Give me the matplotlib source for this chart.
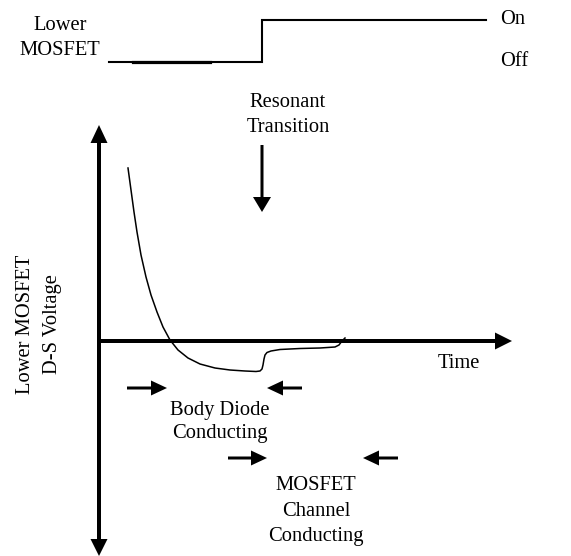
import matplotlib
matplotlib.use("Agg")
import matplotlib.pyplot as plt

# ---- data (diagram geometry in pixel units) ----
gate_x = [109, 262, 262, 486]
gate_y = [62, 62, 20, 20]
gate_thick_x = [133, 210]
gate_thick_y = [62, 62]

curve_x = [128, 131, 134, 137, 141, 146, 151, 157, 163, 170, 178, 188, 200, 215, 230,
           245, 256, 260, 262, 263, 264, 265, 267, 271, 280, 300, 320, 335, 339, 342, 345]
curve_y = [168, 190, 212, 232, 255, 277, 295, 312, 327, 340, 350, 358, 364, 368, 370,
           371, 371.5, 371, 369, 365, 359, 355, 352.5, 351, 349.5, 348.5, 348, 347, 345, 341, 338]

labels_font = ["Liberation Serif", "DejaVu Serif"]

fig = plt.figure(figsize=(5.71, 5.56), dpi=100)
ax = fig.add_axes([0, 0, 1, 1])
ax.set_xlim(0, 571)
ax.set_ylim(556, 0)
ax.axis("off")

fs = 14.8

# gate signal
ax.plot(gate_x, gate_y, color="black", lw=1.5, solid_joinstyle="miter")
ax.plot(gate_thick_x, gate_thick_y, color="black", lw=2.3)
ax.text(60, 38, "Lower\nMOSFET", ha="center", va="center", fontsize=fs,
        family=labels_font, linespacing=1.38)
ax.text(500, 19, "On", ha="left", va="center", fontsize=fs, family=labels_font)
ax.text(500, 62, "Off", ha="left", va="center", fontsize=fs, family=labels_font)

# resonant transition
ax.text(288, 115, "Resonant\nTransition", ha="center", va="center", fontsize=fs,
        family=labels_font, linespacing=1.48)
ax.arrow(262, 145, 0, 67, width=3, head_width=18, head_length=15,
         length_includes_head=True, color="black", lw=0)

# axes
ax.arrow(99, 341, 0, -216, width=4, head_width=17, head_length=18,
         length_includes_head=True, color="black", lw=0)
ax.arrow(99, 339, 0, 217, width=4, head_width=17, head_length=17,
         length_includes_head=True, color="black", lw=0)
ax.arrow(97, 341, 415, 0, width=4, head_width=17, head_length=17,
         length_includes_head=True, color="black", lw=0)
ax.text(459, 364, "Time", ha="center", va="center", fontsize=fs, family=labels_font)
ax.text(39, 324, "Lower MOSFET\nD-S Voltage", ha="center", va="center", fontsize=fs,
        family=labels_font, rotation=90, linespacing=1.62)

# waveform
ax.plot(curve_x, curve_y, color="black", lw=1.1)

# body diode arrows
ax.arrow(127, 388, 40, 0, width=3, head_width=15, head_length=16,
         length_includes_head=True, color="black", lw=0)
ax.arrow(302, 388, -35, 0, width=3, head_width=15, head_length=16,
         length_includes_head=True, color="black", lw=0)
ax.text(220, 422, "Body Diode\nConducting", ha="center", va="center", fontsize=fs,
        family=labels_font, linespacing=1.32)

# channel arrows
ax.arrow(228, 458, 39, 0, width=3, head_width=15, head_length=16,
         length_includes_head=True, color="black", lw=0)
ax.arrow(398, 458, -35, 0, width=3, head_width=15, head_length=16,
         length_includes_head=True, color="black", lw=0)
ax.text(316, 511, "MOSFET\nChannel\nConducting", ha="center", va="center", fontsize=fs,
        family=labels_font, linespacing=1.45)

fig.savefig("out.png", dpi=100)
